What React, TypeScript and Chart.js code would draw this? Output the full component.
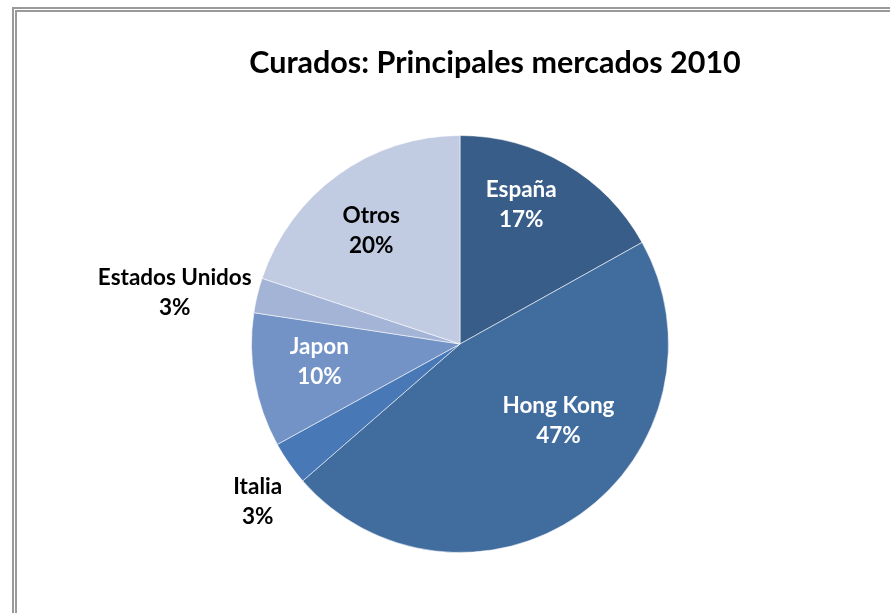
import React, { useEffect, useRef } from "react";
import { Chart, registerables } from "chart.js";

Chart.register(...registerables);

const titleText = "Curados: Principales mercados 2010";
const categories = ["España", "Hong Kong", "Italia", "Japon", "Estados Unidos", "Otros"];
const shares = [16.9, 46.7, 3.4, 10.4, 2.7, 19.9];

const sliceColors = ["#395D89", "#416C9E", "#4878B5", "#7393C6", "#A3B4D6", "#C1CBE1"];
const labelColors = ["#ffffff", "#ffffff", "#000000", "#ffffff", "#000000", "#000000"];
// label placement: angle offset from slice middle (deg) and radius factor
const labelAngleOffset = [-6.7, -16.8, -3, 2.7, -3.3, -2.3];
const labelRadiusFactor = [0.73, 0.6, 1.23, 0.68, 1.39, 0.69];

const FONT = "Lato, 'Open Sans', sans-serif";

const labelPlugin = {
  id: "customLabels",
  afterDraw(chart: any) {
    const ctx = chart.ctx;
    ctx.save();
    // title
    ctx.fillStyle = "#000";
    ctx.font = `bold 30.5px ${FONT}`;
    ctx.textAlign = "center";
    ctx.textBaseline = "middle";
    ctx.fillText(titleText, 495, 63);

    const meta = chart.getDatasetMeta(0);
    const total = shares.reduce((a, b) => a + b, 0);
    meta.data.forEach((arc: any, i: number) => {
      const p = arc.getProps(["x", "y", "startAngle", "endAngle", "outerRadius"], true);
      const mid = (p.startAngle + p.endAngle) / 2 + (labelAngleOffset[i] * Math.PI) / 180;
      const r = p.outerRadius * labelRadiusFactor[i];
      const x = p.x + Math.cos(mid) * r;
      const y = p.y + Math.sin(mid) * r;
      ctx.fillStyle = labelColors[i];
      ctx.font = `bold 22.5px ${FONT}`;
      ctx.fillText(categories[i], x, y - 15);
      ctx.fillText(Math.round((shares[i] / total) * 100) + "%", x, y + 15);
    });
    ctx.restore();
  },
};

export default function App() {
  const ref = useRef<HTMLCanvasElement>(null);
  useEffect(() => {
    const chart = new Chart(ref.current!, {
      type: "pie",
      data: {
        labels: categories,
        datasets: [
          {
            data: shares,
            backgroundColor: sliceColors,
            borderColor: "rgba(255,255,255,0.55)",
            borderWidth: 1,
          },
        ],
      },
      options: {
        animation: false,
        responsive: false,
        layout: { padding: { left: 251, right: 221, top: 135, bottom: 60 } },
        plugins: {
          legend: { display: false },
          title: { display: false },
          tooltip: { enabled: false },
        },
      },
      plugins: [labelPlugin],
    });
    return () => chart.destroy();
  }, []);

  return (
    <div style={{ position: "fixed", left: 0, top: 0, width: 890, height: 613, background: "#fff", overflow: "hidden" }}>
      <div
        style={{
          position: "absolute",
          left: 12,
          top: 7,
          width: 1000,
          height: 1000,
          border: "5px double #9a9a9a",
        }}
      />
      <canvas ref={ref} width={890} height={613} style={{ position: "absolute", left: 0, top: 0 }} />
    </div>
  );
}
